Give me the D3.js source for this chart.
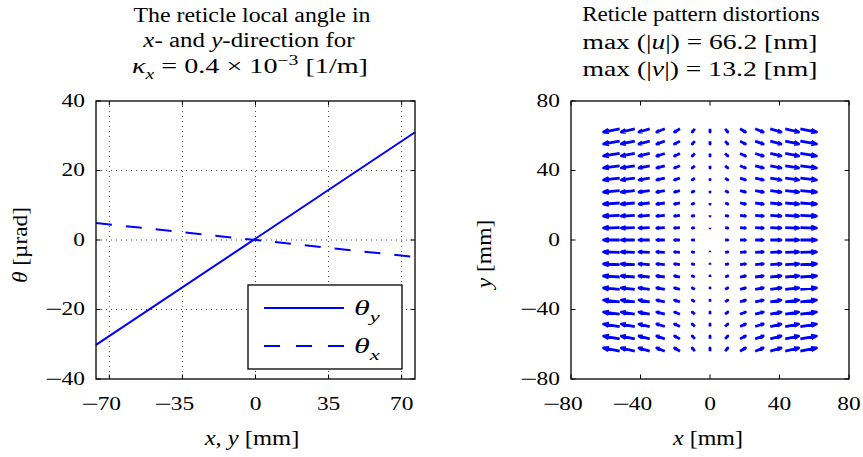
<!DOCTYPE html>
<html>
<head>
<meta charset="utf-8">
<script src="https://cdn.jsdelivr.net/npm/d3@7"></script>
<style>
body { margin: 0; background: #fff; }
text { font-family: "Liberation Serif", "Times New Roman", serif; fill: #000; }
</style>
</head>
<body>
<svg id="chart" width="863" height="457"></svg>
<script>
// left panel - local angle of the reticle
const lineX = [-76.4, 76.4]
const thetaY = [-30.2, 31.0]
const thetaX = [4.9, -4.9]
const leftXTicks = [-70, -35, 0, 35, 70]
const leftYTicks = [-40, -20, 0, 20, 40]

// right panel - quiver grid, u per column and v per row
const gridX = [-52, -43.3, -34.7, -26, -17.3, -8.7, 0, 8.7, 17.3, 26, 34.7, 43.3, 52]
const gridY = [64, 56.9, 49.8, 42.7, 35.6, 28.4, 21.3, 14.2, 7.1, 0, -7.1, -14.2, -21.3, -28.4, -35.6, -42.7, -49.8, -56.9, -64]
const uCol = [-66.2, -55.2, -44.1, -33.1, -22.1, -11.0, 0, 11.0, 22.1, 33.1, 44.1, 55.2, 66.2]
const vRow = [-13.2, -11.7, -10.3, -8.8, -7.3, -5.9, -4.4, -2.9, -1.5, 0, 1.5, 2.9, 4.4, 5.9, 7.3, 8.8, 10.3, 11.7, 13.2]
const rightTicks = [-80, -40, 0, 40, 80]

const svg = d3.select("#chart")
const blue = "#0000ff"
const tickFont = 18, tickStretch = 1.3, minusStretch = 1.7
const titleFont = 20, labelFont = 20

// stretch a text horizontally about x
function stretch(t, x, k) {
    t.attr("transform", `translate(${x},0) scale(${k},1) translate(${-x},0)`)
}

// writes a rich text line: segments {t, i: italic, sub, sup}; width = wanted ink width
function rich(g, x, y, segs, size, anchor, width) {
    const t = g.append("text").attr("x", x).attr("y", y)
        .attr("text-anchor", anchor || "middle").style("font-size", size + "px")
    let shift = 0
    segs.forEach(s => {
        let target = s.sub ? size * 0.3 : s.sup ? -size * 0.4 : 0
        const sp = t.append("tspan").text(s.t).attr("dy", target - shift)
        shift = target
        if (s.i) sp.style("font-style", "italic")
        if (s.sub || s.sup) sp.style("font-size", (size * 0.7) + "px")
    })
    if (width) stretch(t, x, width / t.node().getBBox().width)
    return t
}

// tick label: digits placed by anchor, a long minus hangs to the left
function tickLabel(g, x, y, v, anchor, dy) {
    const digits = g.append("text").attr("x", x).attr("y", y).attr("dy", dy)
        .attr("text-anchor", anchor).style("font-size", tickFont + "px")
        .text(Math.abs(v))
    stretch(digits, x, tickStretch)
    if (v < 0) {
        const w = digits.node().getComputedTextLength() * tickStretch
        const mx = (anchor === "middle" ? x - w / 2 : x - w) + 1
        const m = g.append("text").attr("x", mx).attr("y", y).attr("dy", dy)
            .attr("text-anchor", "end").style("font-size", tickFont + "px").text("\u2212")
        stretch(m, mx, minusStretch)
    }
}

function frame(g, x, y, xt, yt) {
    const [x0, x1] = x.range(), [y1, y0] = y.range()
    const tl = 4.5
    const ticks = g.append("g").attr("stroke", "#000").attr("stroke-width", 1)
    xt.forEach(v => {
        ticks.append("line").attr("x1", x(v)).attr("x2", x(v)).attr("y1", y1).attr("y2", y1 - tl)
        ticks.append("line").attr("x1", x(v)).attr("x2", x(v)).attr("y1", y0).attr("y2", y0 + tl)
        tickLabel(g, x(v), y1 + 31, v, "middle", 0)
    })
    yt.forEach(v => {
        ticks.append("line").attr("x1", x0).attr("x2", x0 + tl).attr("y1", y(v)).attr("y2", y(v))
        ticks.append("line").attr("x1", x1).attr("x2", x1 - tl).attr("y1", y(v)).attr("y2", y(v))
        tickLabel(g, x0 - 11, y(v), v, "end", "0.33em")
    })
    g.append("rect").attr("x", x0).attr("y", y0).attr("width", x1 - x0).attr("height", y1 - y0)
        .attr("fill", "none").attr("stroke", "#000").attr("stroke-width", 1.3)
}

// ---------- left panel ----------
const xL = d3.scaleLinear().domain([-76.4, 76.4]).range([96, 415])
const yL = d3.scaleLinear().domain([-40, 40]).range([379, 101])
const left = svg.append("g")

const grid = left.append("g")
leftXTicks.forEach(v => grid.append("line").attr("x1", xL(v)).attr("x2", xL(v)).attr("y1", 101).attr("y2", 379))
leftYTicks.slice(1, -1).forEach(v => grid.append("line").attr("x1", 96).attr("x2", 415).attr("y1", yL(v)).attr("y2", yL(v)))
grid.selectAll("line").attr("stroke", "#444").attr("stroke-width", 1).attr("stroke-dasharray", "1,4")

const line = d3.line().x((d, i) => xL(lineX[i])).y(d => yL(d))
left.append("path").attr("d", line(thetaY)).attr("fill", "none").attr("stroke", blue).attr("stroke-width", 2)
left.append("path").attr("d", line(thetaX)).attr("fill", "none").attr("stroke", blue).attr("stroke-width", 2)
    .attr("stroke-dasharray", "16,14")

frame(left.append("g"), xL, yL, leftXTicks, leftYTicks)

// legend
const lg = left.append("g")
lg.append("rect").attr("x", 248).attr("y", 285).attr("width", 154).attr("height", 84)
    .attr("fill", "#fff").attr("stroke", "#000").attr("stroke-width", 1.3)
lg.append("line").attr("x1", 264).attr("x2", 344).attr("y1", 308).attr("y2", 308)
    .attr("stroke", blue).attr("stroke-width", 2)
lg.append("line").attr("x1", 264).attr("x2", 344).attr("y1", 346).attr("y2", 346)
    .attr("stroke", blue).attr("stroke-width", 2).attr("stroke-dasharray", "16,16")
rich(lg, 354, 315, [{t: "θ", i: 1}, {t: "y", i: 1, sub: 1}], 22, "start", 26)
rich(lg, 354, 353, [{t: "θ", i: 1}, {t: "x", i: 1, sub: 1}], 22, "start", 26)

rich(left, 252, 22, [{t: "The reticle local angle in"}], titleFont, "middle", 237)
rich(left, 249, 47, [{t: "x", i: 1}, {t: "- and "}, {t: "y", i: 1}, {t: "-direction for"}], titleFont, "middle", 213)
rich(left, 250, 73, [{t: "κ", i: 1}, {t: "x", i: 1, sub: 1}, {t: " = 0.4 × 10"}, {t: "\u22123", sup: 1}, {t: " [1/m]"}], titleFont, "middle", 236)
rich(left, 252, 445, [{t: "x", i: 1}, {t: ", "}, {t: "y", i: 1}, {t: " [mm]"}], labelFont, "middle", 96)
const yl = left.append("g").attr("transform", "translate(27,245) rotate(-90)")
rich(yl, 0, 0, [{t: "θ", i: 1}, {t: " [µrad]"}], labelFont, "middle", 76)

// ---------- right panel ----------
const xR = d3.scaleLinear().domain([-80, 80]).range([571, 849])
const yR = d3.scaleLinear().domain([-80, 80]).range([379, 101])
const right = svg.append("g")

const scale = 0.14, alpha = 0.33, beta = 0.33
const arrows = []
gridY.forEach((gy, j) => gridX.forEach((gx, i) => {
    arrows.push({x: gx, y: gy, u: uCol[i] * scale, v: vRow[j] * scale})
}))

const q = right.append("g").attr("fill", "none").attr("stroke", blue)
    .attr("stroke-width", 2.8).attr("stroke-linejoin", "round")
q.selectAll("path").data(arrows).enter().append("path")
    .attr("d", d => {
        const hx = d.x + d.u, hy = d.y + d.v
        const p1 = [hx - alpha * (d.u + beta * d.v), hy - alpha * (d.v - beta * d.u)]
        const p2 = [hx - alpha * (d.u - beta * d.v), hy - alpha * (d.v + beta * d.u)]
        return `M${xR(d.x)},${yR(d.y)}L${xR(hx)},${yR(hy)}` +
            `M${xR(p1[0])},${yR(p1[1])}L${xR(hx)},${yR(hy)}L${xR(p2[0])},${yR(p2[1])}`
    })

frame(right.append("g"), xR, yR, rightTicks, rightTicks)

rich(right, 701, 21, [{t: "Reticle pattern distortions"}], titleFont, "middle", 238)
rich(right, 700, 49, [{t: "max (|"}, {t: "u", i: 1}, {t: "|) = 66.2 [nm]"}], titleFont, "middle", 235)
rich(right, 700, 76, [{t: "max (|"}, {t: "v", i: 1}, {t: "|) = 13.2 [nm]"}], titleFont, "middle", 235)
rich(right, 708, 445, [{t: "x", i: 1}, {t: " [mm]"}], labelFont, "middle", 71)
const yr = right.append("g").attr("transform", "translate(491,254) rotate(-90)")
rich(yr, 0, 0, [{t: "y", i: 1}, {t: " [mm]"}], labelFont, "middle", 71)
</script>
</body>
</html>
